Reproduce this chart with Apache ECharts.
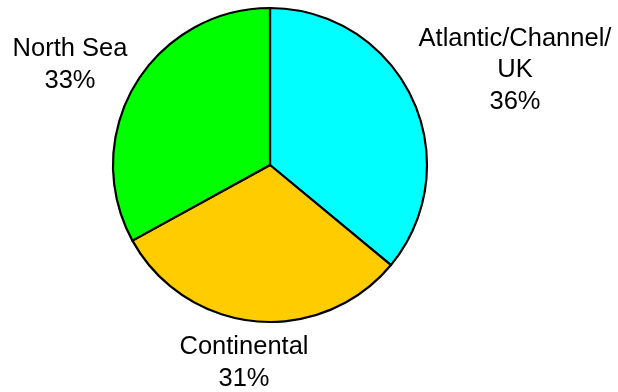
<!DOCTYPE html>
<html>
<head>
<meta charset="utf-8">
<script src="https://cdn.jsdelivr.net/npm/echarts@6/dist/echarts.min.js"></script>
<style>
  html, body { margin: 0; padding: 0; background: #fff; }
  #chart { width: 618px; height: 392px; }
</style>
</head>
<body>
<div id="chart"></div>
<script>
// Share of activity by region (percent)
const regions = ['Atlantic/Channel/\nUK', 'Continental', 'North Sea'];
const shares = [36, 31, 33];
const sliceColors = ['#00FFFF', '#FFCC00', '#00FF00'];

// Where each region's label block sits (centre point, px)
const labelSpots = [
  { x: 515, y: 70 },
  { x: 244, y: 363 },
  { x: 70, y: 65 }
];

const chart = echarts.init(document.getElementById('chart'));
chart.setOption({
  animation: false,
  backgroundColor: '#ffffff',
  series: [{
    type: 'pie',
    center: [270, 165],
    radius: 157,
    startAngle: 90,
    clockwise: true,
    data: regions.map((name, i) => ({
      name: name,
      value: shares[i],
      itemStyle: { color: sliceColors[i] }
    })),
    itemStyle: { borderColor: '#000', borderWidth: 2.2 },
    emphasis: { disabled: true },
    label: {
      show: true,
      position: 'outside',
      formatter: p => p.name + '\n' + p.value + '%',
      fontFamily: 'Liberation Sans, Arial, sans-serif',
      fontSize: 25.5,
      lineHeight: 31.5,
      color: '#000',
      align: 'center',
      width: 300,
      overflow: 'none'
    },
    labelLine: { show: false },
    labelLayout: p => ({
      x: labelSpots[p.dataIndex].x,
      y: labelSpots[p.dataIndex].y,
      align: 'center',
      verticalAlign: 'middle',
      width: 300
    })
  }]
});
</script>
</body>
</html>
